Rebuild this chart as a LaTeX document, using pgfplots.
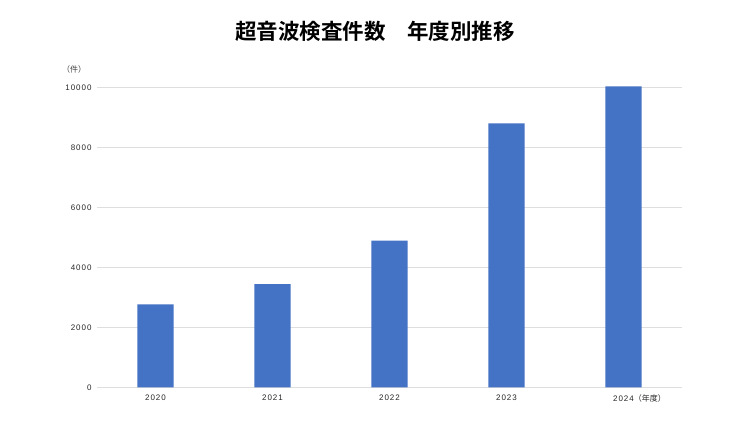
\documentclass[border=0pt]{standalone}
\usepackage{fontspec}
\usepackage{pgfplots}
\pgfplotsset{compat=1.18}
\setmainfont{Liberation Sans}
\newfontfamily\tickfont[LetterSpace=12]{Liberation Sans}
\newfontfamily\cjk{Noto Sans CJK JP}
\newfontfamily\cjkbold{Noto Sans CJK JP Bold}
\definecolor{barblue}{HTML}{4472C4}
\definecolor{gridgray}{HTML}{DEDEDE}

\pgfplotstableread{
x year count
0 2020 2767
1 2021 3443
2 2022 4888
3 2023 8800
4 2024 10030
}\counts

\begin{document}
\begin{tikzpicture}
\useasboundingbox (0,0) rectangle (750pt,421pt);
\node[font=\cjkbold\fontsize{21.5}{24}\selectfont] at (375pt,390pt) {超音波検査件数　年度別推移};
\node[font=\cjk\fontsize{8}{9}\selectfont, text=black!75] at (74pt,351.5pt) {（件）};
\begin{axis}[
    at={(97pt,33.7pt)}, anchor=south west,
    scale only axis,
    width=585pt, height=300pt,
    xmin=-0.5, xmax=4.5,
    ymin=0, ymax=10000,
    clip=false,
    xtick=data,
    xticklabels={2020,2021,2022,2023,{2024\rlap{\cjk（年度）}}},
    ytick={0,2000,...,10000},
    scaled y ticks=false,
    ymajorgrids,
    grid style={gridgray, line width=0.8pt},
    axis line style={draw=none},
    major tick length=0pt,
    /pgf/number format/assume math mode=true,
    /pgf/number format/1000 sep={},
    /pgf/number format/fixed,
    tick label style={font=\tickfont\fontsize{8}{9}\selectfont, text=black!85},
    yticklabel style={xshift=-2pt},
    xticklabel style={yshift=-4pt},
    ]
    \draw[gridgray, line width=0.8pt] (axis cs:-0.5,0) -- (axis cs:4.5,0);
    \addplot[ybar, bar width=36.4pt, fill=barblue, draw=none] table[x=x, y=count] {\counts};
\end{axis}
\end{tikzpicture}
\end{document}
